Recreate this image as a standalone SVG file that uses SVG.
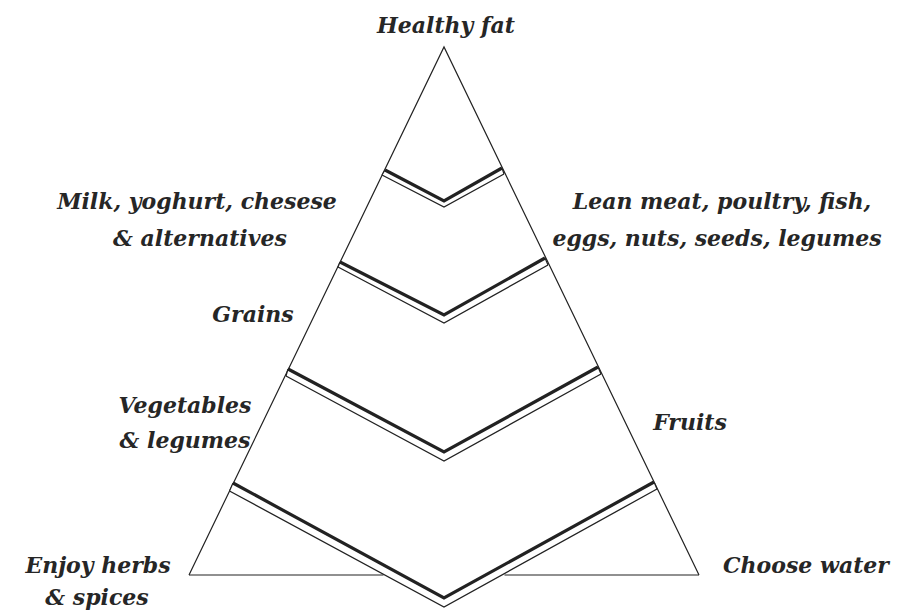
<svg xmlns="http://www.w3.org/2000/svg" width="902" height="613" viewBox="0 0 902 613">
<style>
.edge{stroke:#222;stroke-width:1.2;fill:none}
.band{fill:#fff;stroke:none}
.thick{stroke:#222;stroke-width:3.2;fill:none;stroke-linejoin:miter}
.thin{stroke:#222;stroke-width:1.3;fill:none;stroke-linejoin:miter}
.lbl{font-family:"DejaVu Serif",serif;font-style:italic;font-weight:bold;font-size:22px;fill:#262626;text-anchor:middle}
</style>
<rect width="902" height="613" fill="#fff"/>
<g id="connectors">
<g id="pyramid">
<path class="edge" d="M189,575 L444,47 L699,575"/>
<path class="edge" d="M189,575 L383.5,575 M504.5,575 L699,575"/>
</g>
<g id="band1">
<polygon class="band" points="385,170 444,201 502,168 504,174 444,207 382,175"/>
<polyline class="thick" points="385,170 444,201 502,168"/>
<polyline class="thin" points="382,175 444,207 504,174"/>
</g>
<g id="band2">
<polygon class="band" points="340,262 444,315 545,258 548,265 444,323 338,267"/>
<polyline class="thick" points="340,262 444,315 545,258"/>
<polyline class="thin" points="338,267 444,323 548,265"/>
</g>
<g id="band3">
<polygon class="band" points="288,369 444,452 598,367 601,374 444,461 286,376"/>
<polyline class="thick" points="288,369 444,452 598,367"/>
<polyline class="thin" points="286,376 444,461 601,374"/>
</g>
<g id="band4">
<polygon class="band" points="233,483 444,598 654,482 657,489 444,607 229.5,491"/>
<polyline class="thick" points="233,483 444,598 654,482"/>
<polyline class="thin" points="229.5,491 444,607 657,489"/>
</g>
<path class="edge" d="M382,175 L385,170 M338,267 L340,262 M286,376 L288,369 M229.5,491 L233,483 M502,168 L504,174 M545,258 L548,265 M598,367 L601,374 M654,482 L657,489"/>
</g>
<g id="label-fat"><text class="lbl" x="446" y="33">Healthy fat</text></g>
<g id="label-milk"><text class="lbl" x="197" y="209">Milk, yoghurt, chesese</text><text class="lbl" x="200" y="246">&amp; alternatives</text></g>
<g id="label-meat"><text class="lbl" x="722" y="209">Lean meat, poultry, fish,</text><text class="lbl" x="717" y="246">eggs, nuts, seeds, legumes</text></g>
<g id="label-grains"><text class="lbl" x="253" y="322">Grains</text></g>
<g id="label-veg"><text class="lbl" x="185" y="413">Vegetables</text><text class="lbl" x="185" y="448">&amp; legumes</text></g>
<g id="label-fruits"><text class="lbl" x="690" y="430">Fruits</text></g>
<g id="label-herbs"><text class="lbl" x="98" y="573">Enjoy herbs</text><text class="lbl" x="97" y="605">&amp; spices</text></g>
<g id="label-water"><text class="lbl" x="806" y="573">Choose water</text></g>
</svg>
